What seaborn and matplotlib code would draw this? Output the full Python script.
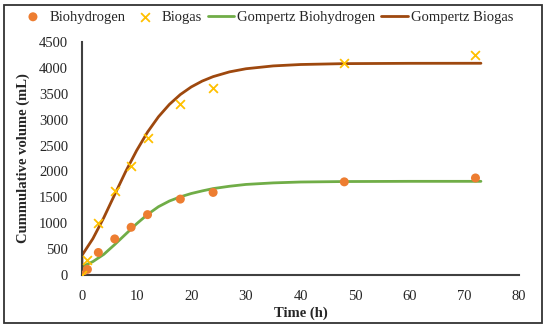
import numpy as np
import pandas as pd
import seaborn as sns
import matplotlib.pyplot as plt
from matplotlib.patches import Rectangle

# measured points
time_h = [0, 1, 3, 6, 9, 12, 18, 24, 48, 72]
biohydrogen = [0, 110, 436, 698, 923, 1167, 1467, 1596, 1800, 1875]
biogas = [0, 288, 1013, 1621, 2102, 2640, 3302, 3615, 4096, 4250]

# fitted curves
fit_time = [0, 0, 2, 4, 6, 8, 10, 12, 14, 16, 18, 20, 22, 24, 27, 30, 35, 40, 48, 60, 73]
gompertz_h2 = [0, 160, 260, 400, 590, 790, 990, 1170, 1320, 1430, 1510, 1575, 1625, 1670,
               1715, 1750, 1780, 1797, 1806, 1810, 1810]
gompertz_biogas = [0, 380, 703, 1109, 1556, 1999, 2404, 2761, 3057, 3296, 3486, 3633, 3746,
                   3832, 3924, 3984, 4039, 4066, 4083, 4089, 4090]

x_ticks = [0, 10, 20, 30, 40, 50, 60, 70, 80]
y_ticks = [0, 500, 1000, 1500, 2000, 2500, 3000, 3500, 4000, 4500]

pts = pd.DataFrame({'t': time_h, 'h2': biohydrogen, 'gas': biogas})
fit = pd.DataFrame({'t': fit_time, 'h2': gompertz_h2, 'gas': gompertz_biogas})

sns.set_style('white')
plt.rcParams['font.family'] = ['Liberation Serif', 'DejaVu Serif']

fig = plt.figure(figsize=(5.5, 3.31), dpi=100)
ax = fig.add_axes([0.149, 0.169, 0.795, 0.704])

sns.scatterplot(data=pts, x='t', y='h2', ax=ax, color='#ED7D31', marker='o', s=42,
                edgecolor='none', label='Biohydrogen', zorder=3)
sns.scatterplot(data=pts, x='t', y='gas', ax=ax, color='#FFC000', marker='x', s=40,
                linewidth=1.3, label='Biogas', zorder=3)
sns.lineplot(data=fit, x='t', y='h2', ax=ax, color='#70AD47', linewidth=2,
             estimator=None, sort=False, label='Gompertz Biohydrogen')
sns.lineplot(data=fit, x='t', y='gas', ax=ax, color='#9E480E', linewidth=2,
             estimator=None, sort=False, label='Gompertz Biogas')

ax.set_xlim(0, 80)
ax.set_ylim(0, 4500)
ax.set_xticks(x_ticks)
ax.set_yticks(y_ticks)
ax.tick_params(labelsize=10.5, length=0)
ax.tick_params(axis='x', pad=11)
ax.tick_params(axis='y', pad=10)
ax.set_xlabel('Time (h)', fontsize=10.5, fontweight='bold', labelpad=2)
ax.set_ylabel('Cummulative volume (mL)', fontsize=10.5, fontweight='bold', labelpad=6)
for side in ['top', 'right']:
    ax.spines[side].set_visible(False)
for side in ['left', 'bottom']:
    ax.spines[side].set_color('#404040')
    ax.spines[side].set_linewidth(1.5)

handles, labels = ax.get_legend_handles_labels()
ax.get_legend().remove()
fig.legend(handles, labels, loc='upper center', bbox_to_anchor=(0.485, 0.995), ncol=4,
           frameon=False, fontsize=10.5, handlelength=1.8, handletextpad=0.25,
           columnspacing=0.4, borderaxespad=0.2)

fig.patches.append(Rectangle((4 / 550, 1 - 323 / 331), 538 / 550, 318 / 331,
                             transform=fig.transFigure, fill=False,
                             edgecolor='#333333', linewidth=1.3))

fig.savefig('out.png', dpi=100)
